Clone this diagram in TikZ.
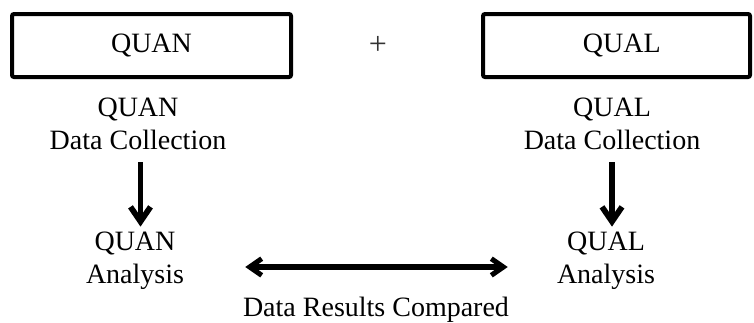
\documentclass[tikz,border=0pt]{standalone}
\usepackage{fontspec}
\setmainfont{Liberation Serif}
\usetikzlibrary{arrows.meta}
\begin{document}
\begin{tikzpicture}[x=0.75pt,y=-0.75pt,
  topbox/.style={draw, line width=3pt, rounded corners=1.5pt, inner sep=0pt, font=\fontsize{21}{24}\selectfont},
  lbl/.style={align=center, inner sep=0pt, font=\fontsize{21}{24.75}\selectfont},
  arr/.style={line width=4.3pt, -{Straight Barb[length=11pt,width=15pt,line width=4.3pt]}},
  darr/.style={line width=3.8pt, {Straight Barb[length=9pt,width=12.5pt,line width=3.8pt]}-{Straight Barb[length=9pt,width=12.5pt,line width=3.8pt]}}]
\useasboundingbox (0,0) rectangle (754,322);
\node[topbox, minimum width=209.25pt, minimum height=47.25pt] (quanbox) at (151.5,45.5) {QUAN};
\node[topbox, minimum width=200.25pt, minimum height=47.25pt] (qualbox) at (616.5,45.5) {\hspace{8pt}QUAL};
\node[font=\fontsize{24}{26}\selectfont, text=black!80, inner sep=0pt] (plus) at (378,45) {+};
\node[lbl] (quancoll) at (138,124) {QUAN\\Data Collection};
\node[lbl] (qualcoll) at (612,124) {QUAL\\Data Collection};
\node[lbl] (quanan) at (135,261) {QUAN\\Analysis};
\node[lbl] (qualan) at (606,261) {QUAL\\Analysis};
\node[lbl] (results) at (376,310) {Data Results Compared};
\coordinate (a1) at (140.5,162);
\coordinate (a2) at (612,162);
\draw[arr, shorten >=4pt] (quancoll.south -| a1) ++(0,12) -- (quanan.north -| a1);
\draw[arr, shorten >=4pt] (qualcoll.south -| a2) ++(0,12) -- (qualan.north -| a2);
\draw[darr] ([xshift=-36.75pt, yshift=-4.5pt]qualan.west) -- ([xshift=45.75pt, yshift=-4.5pt]quanan.east);
\end{tikzpicture}
\end{document}
